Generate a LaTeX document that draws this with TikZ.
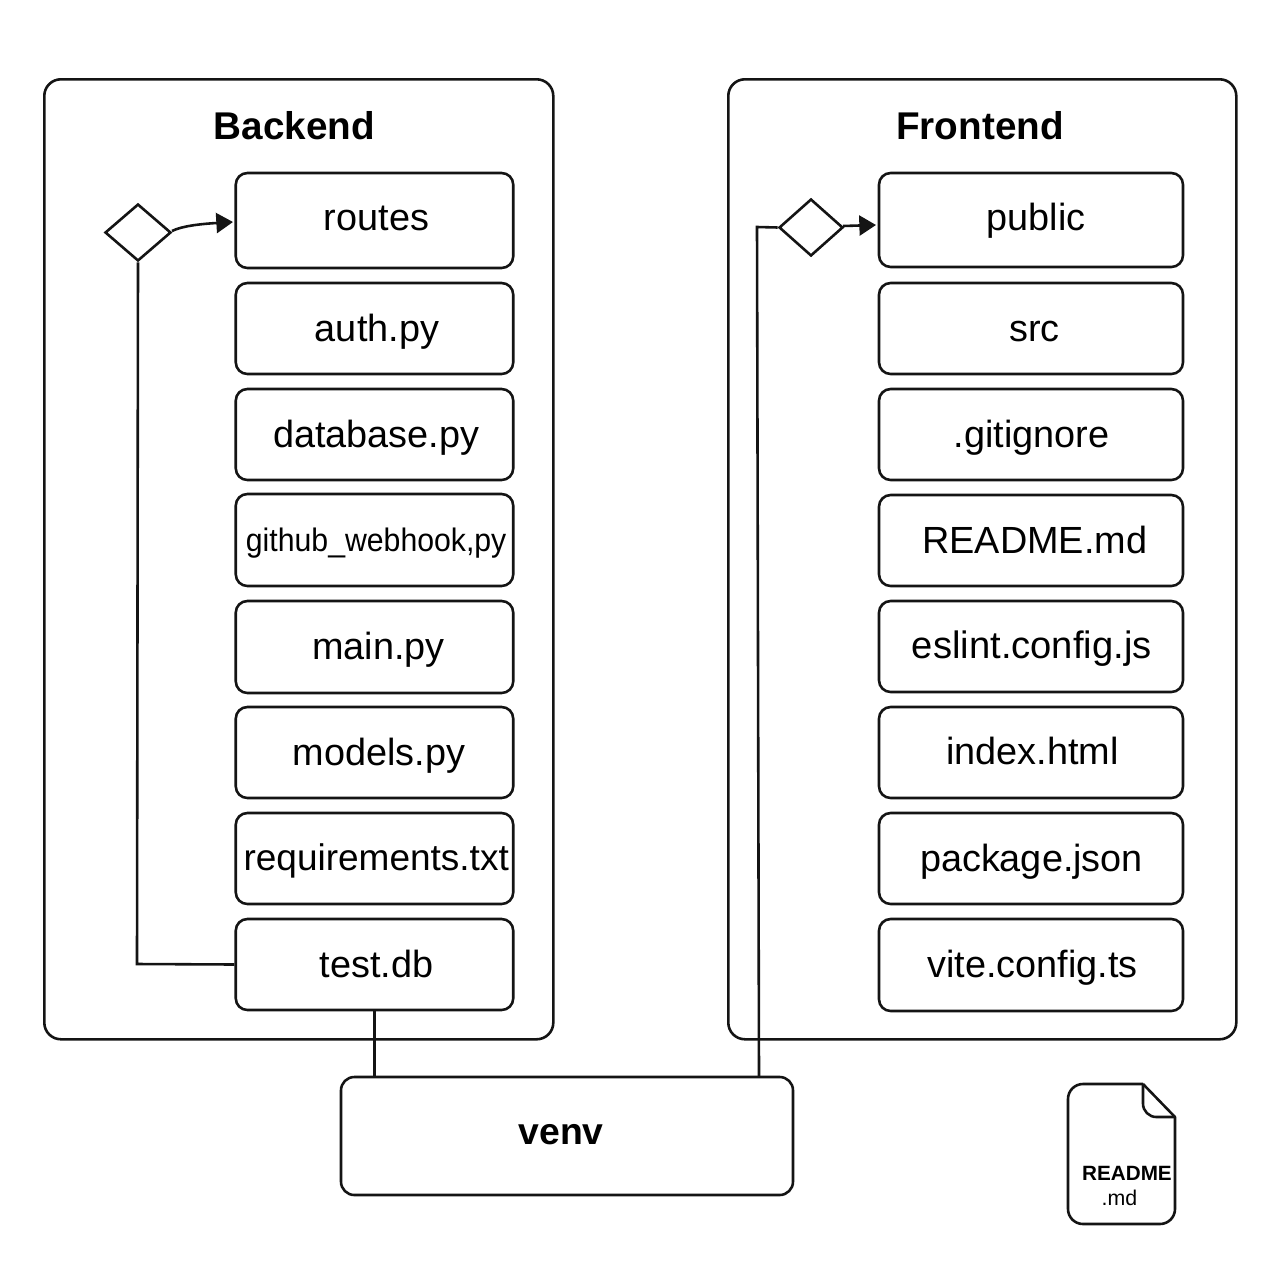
\documentclass[tikz,border=0pt]{standalone}
\usepackage{fontspec}
\usepackage{graphicx}
\setmainfont{Liberation Sans}
\usetikzlibrary{shapes.geometric,arrows.meta,calc}
\newcommand{\nudge}[3]{\hspace*{#1pt}\raisebox{#2pt}{#3}}
\tikzset{
  x=0.6pt,y=-0.6pt,
  ink/.style={line width=1.55pt,draw=black!92},
  panel/.style={ink,rounded corners=10pt,inner sep=0pt,anchor=north west},
  filebox/.style={ink,rounded corners=7pt,inner sep=0pt,minimum width=166.5pt,text height=16.5pt,text depth=1.5pt,font=\fontsize{22.7pt}{26pt}\selectfont},
  widebox/.style={filebox,minimum width=182.4pt},
  gate/.style={ink,diamond,inner sep=0pt,fill=white},
  title/.style={font=\bfseries\fontsize{23.2pt}{27pt}\selectfont,inner sep=0pt},
  wire/.style={ink},
  arrowwire/.style={wire,-{Triangle[length=10pt,width=12pt]}}
}
\begin{document}
\begin{tikzpicture}
\useasboundingbox (0,0) rectangle (1280,1280);
% panels
\node[panel,minimum width=305.4pt,minimum height=576pt] (backend) at (43,78) {};
\node[panel,minimum width=304.8pt,minimum height=576pt] (frontend) at (727,78) {};
\node[title] (backendtitle) at (294.5,126) {Backend};
\node[title] (frontendtitle) at (980,126) {Frontend};
% backend files
\node[filebox,minimum height=57pt] (routes) at (374.5,220.5) {\nudge{2.4}{1.8}{routes}};
\node[filebox,minimum height=54.6pt] (auth) at (374.5,328.5) {\nudge{3}{0}{auth.py}};
\node[filebox,minimum height=54.6pt] (database) at (374.5,434.5) {\nudge{2}{0}{database.py}};
\node[filebox,minimum height=55.2pt] (github) at (374.5,540) {\nudge{2}{0.6}{\scalebox{0.93}[1]{\fontsize{19.5pt}{22pt}\selectfont github\_webhook,py}}};
\node[filebox,minimum height=55.2pt] (mainpy) at (374.5,647) {\nudge{4.6}{0}{main.py}};
\node[filebox,minimum height=54.6pt] (models) at (374.5,752.5) {\nudge{5.6}{0}{models.py}};
\node[filebox,minimum height=54.6pt,font=\fontsize{22.2pt}{26pt}\selectfont] (requirements) at (374.5,858.5) {\nudge{2}{0.6}{requirements.txt}};
\node[filebox,minimum height=54.6pt] (testdb) at (374.5,964.5) {\nudge{2.4}{0}{test.db}};
% frontend files
\node[widebox,minimum height=56.4pt] (public) at (1031,220) {\nudge{6}{1.2}{public}};
\node[widebox,minimum height=54.6pt] (src) at (1031,328.5) {\nudge{4}{0}{src}};
\node[widebox,minimum height=54.6pt] (gitignore) at (1031,434.5) {\nudge{0.8}{0}{.gitignore}};
\node[widebox,minimum height=54.6pt] (readme) at (1031,540.5) {\nudge{4.6}{0}{README.md}};
\node[widebox,minimum height=54.6pt,font=\fontsize{22.9pt}{26pt}\selectfont] (eslint) at (1031,646.5) {\nudge{1}{0.6}{eslint.config.js}};
\node[widebox,minimum height=54.6pt] (index) at (1031,752.5) {\nudge{2}{0.6}{index.html}};
\node[widebox,minimum height=54.6pt] (package) at (1031,858.5) {\nudge{0.6}{0}{package.json}};
\node[widebox,minimum height=55.2pt] (vite) at (1031,965) {\nudge{1.6}{0}{vite.config.ts}};
% venv
\node[ink,rounded corners=8pt,inner sep=0pt,minimum width=271.2pt,minimum height=70.8pt,text height=10pt,text depth=0.4pt,font=\bfseries\fontsize{22.4pt}{26pt}\selectfont] (venv) at (567,1136) {\hspace*{-7pt}venv};
% gates
\node[gate,minimum width=39.6pt,minimum height=34.2pt] (gateb) at (138,232.5) {};
\node[gate,minimum width=38.4pt,minimum height=34.2pt] (gatef) at (811,227.5) {};
% connector ends
\coordinate (routesin) at (233,222);
\coordinate (publicin) at (876,225);
\coordinate (venvright) at (759,1077);
\coordinate (wirecorner) at (757,227);
\coordinate (gatebout) at (172,231);
\coordinate (gatefout) at (843,226);
% connectors
\draw[arrowwire] (gatebout) .. controls (182,226) and (200,224) .. (routesin);
\draw[arrowwire] (gatefout) -- (publicin);
\draw[wire] (gateb.south) -- (137,964) -- (testdb.west);
\draw[wire] (testdb.south) -- (testdb.south |- venv.north);
\draw[wire] (venvright) -- (wirecorner) -- (gatef.west);
% document icon
\draw[ink,line join=round] (1143,1084) -- (1175,1117) [rounded corners=9pt] -- (1175,1224) -- (1068,1224) -- (1068,1084) -- (1143,1084);
\draw[ink,line join=round,rounded corners=8pt] (1143,1084) -- (1143,1117) -- (1175,1117);
\node[align=center,inner sep=0pt,font=\fontsize{12.4pt}{15pt}\selectfont] (docname) at (1127,1186) {\textbf{README}\\\hspace*{-9pt}{\fontsize{12.8pt}{15pt}\selectfont .md}};
\end{tikzpicture}
\end{document}
